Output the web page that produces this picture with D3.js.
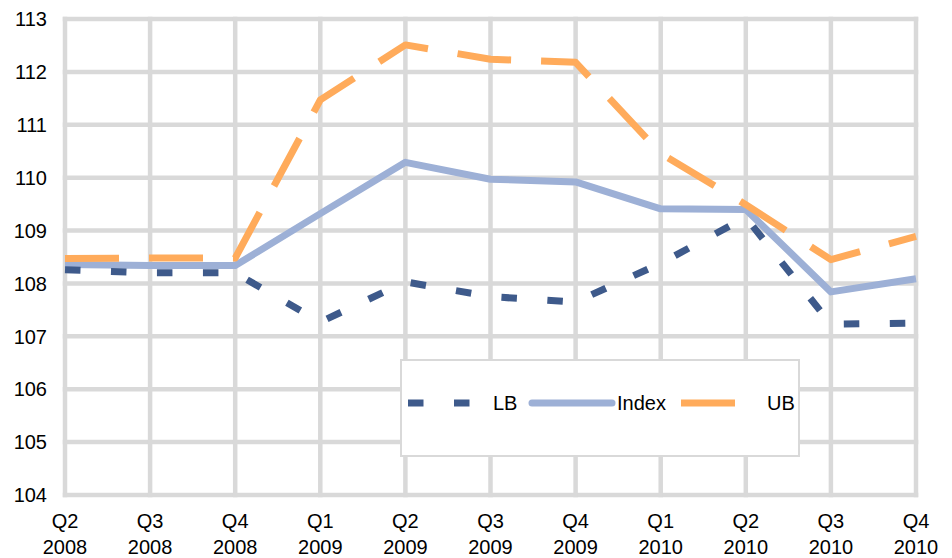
<!DOCTYPE html>
<html>
<head>
<meta charset="utf-8">
<script src="https://cdn.jsdelivr.net/npm/d3@7"></script>
<style>
  body { margin: 0; background: #fff; }
  text { font-family: "Liberation Sans", Arial, sans-serif; fill: #000; }
</style>
</head>
<body>
<div id="main"></div>
<script>
// chart data
var quarters = ["Q2", "Q3", "Q4", "Q1", "Q2", "Q3", "Q4", "Q1", "Q2", "Q3", "Q4"];
var years = ["2008", "2008", "2008", "2009", "2009", "2009", "2009", "2010", "2010", "2010", "2010"];
var indexVals = [108.36, 108.34, 108.34, 109.32, 110.29, 109.97, 109.92, 109.41, 109.40, 107.84, 108.09];
var lbVals = [108.26, 108.20, 108.20, 107.27, 108.03, 107.75, 107.65, 108.38, 109.25, 107.23, 107.25];
var ubVals = [108.47, 108.48, 108.48, 111.47, 112.51, 112.24, 112.18, 110.46, 109.49, 108.45, 108.89];
var yTicks = [104, 105, 106, 107, 108, 109, 110, 111, 112, 113];

var ctx = {
    w: 952,
    h: 558,
    left: 65,
    right: 916,
    top: 19,
    bottom: 495,
    grid: "#d9d9d9",
};

var series = [
    {name: "Index", values: indexVals, color: "#9db0d6", dash: null},
    {name: "LB", values: lbVals, color: "#3e5a8b", dash: "15.5,30.5"},
    {name: "UB", values: ubVals, color: "#ffab5b", dash: "54,30"},
];

var createViz = function(){
    var svgEl = d3.select("#main").append("svg")
        .attr("width", ctx.w)
        .attr("height", ctx.h);
    svgEl.append("rect")
        .attr("width", ctx.w).attr("height", ctx.h)
        .attr("fill", "#fff");

    var cats = quarters.map(function(q, i){ return i; });
    var x = d3.scalePoint().domain(cats).range([ctx.left, ctx.right]);
    var y = d3.scaleLinear().domain([104, 113]).range([ctx.bottom, ctx.top]);

    // grid
    var gridG = svgEl.append("g").attr("id", "grid");
    gridG.selectAll("line.h")
        .data(yTicks).enter().append("line")
        .attr("x1", ctx.left).attr("x2", ctx.right)
        .attr("y1", function(d){ return y(d); })
        .attr("y2", function(d){ return y(d); })
        .attr("stroke", ctx.grid).attr("stroke-width", 4.5)
        .attr("stroke-linecap", "square");
    gridG.selectAll("line.v")
        .data(cats).enter().append("line")
        .attr("x1", function(d){ return x(d); })
        .attr("x2", function(d){ return x(d); })
        .attr("y1", ctx.top).attr("y2", ctx.bottom)
        .attr("stroke", ctx.grid).attr("stroke-width", 4.5)
        .attr("stroke-linecap", "square");

    // y axis labels
    svgEl.append("g").selectAll("text")
        .data(yTicks).enter().append("text")
        .attr("x", 47)
        .attr("y", function(d){ return y(d); })
        .attr("dy", "0.36em")
        .attr("text-anchor", "end")
        .attr("font-size", 20)
        .text(function(d){ return d; });

    // x axis labels, two lines
    var xl = svgEl.append("g").selectAll("text")
        .data(cats).enter().append("text")
        .attr("text-anchor", "middle")
        .attr("font-size", 20);
    xl.append("tspan")
        .attr("x", function(d){ return x(d); })
        .attr("y", 528)
        .text(function(d){ return quarters[d]; });
    xl.append("tspan")
        .attr("x", function(d){ return x(d); })
        .attr("y", 554)
        .text(function(d){ return years[d]; });

    // legend
    var leg = svgEl.append("g").attr("id", "legend");
    leg.append("rect")
        .attr("x", 401).attr("y", 360)
        .attr("width", 398).attr("height", 96)
        .attr("fill", "#fff")
        .attr("stroke", ctx.grid).attr("stroke-width", 2);
    var legItems = [
        {s: series[1], x1: 408, x2: 472, tx: 493},
        {s: series[0], x1: 532, x2: 612, tx: 617},
        {s: series[2], x1: 681, x2: 735, tx: 767},
    ];
    legItems.forEach(function(it){
        leg.append("line")
            .attr("x1", it.x1).attr("x2", it.x2)
            .attr("y1", 403).attr("y2", 403)
            .attr("stroke", it.s.color)
            .attr("stroke-width", 7)
            .attr("stroke-linecap", it.s.dash ? "butt" : "round")
            .attr("stroke-dasharray", it.s.dash);
        leg.append("text")
            .attr("x", it.tx).attr("y", 410)
            .attr("font-size", 20)
            .text(it.s.name);
    });

    // lines
    var line = d3.line()
        .x(function(d, i){ return x(i); })
        .y(function(d){ return y(d); });
    svgEl.append("g").attr("id", "lines")
        .selectAll("path")
        .data(series).enter().append("path")
        .attr("d", function(d){ return line(d.values); })
        .attr("fill", "none")
        .attr("stroke", function(d){ return d.color; })
        .attr("stroke-width", 7)
        .attr("stroke-linejoin", "round")
        .attr("stroke-dasharray", function(d){ return d.dash; });
};

createViz();
</script>
</body>
</html>
